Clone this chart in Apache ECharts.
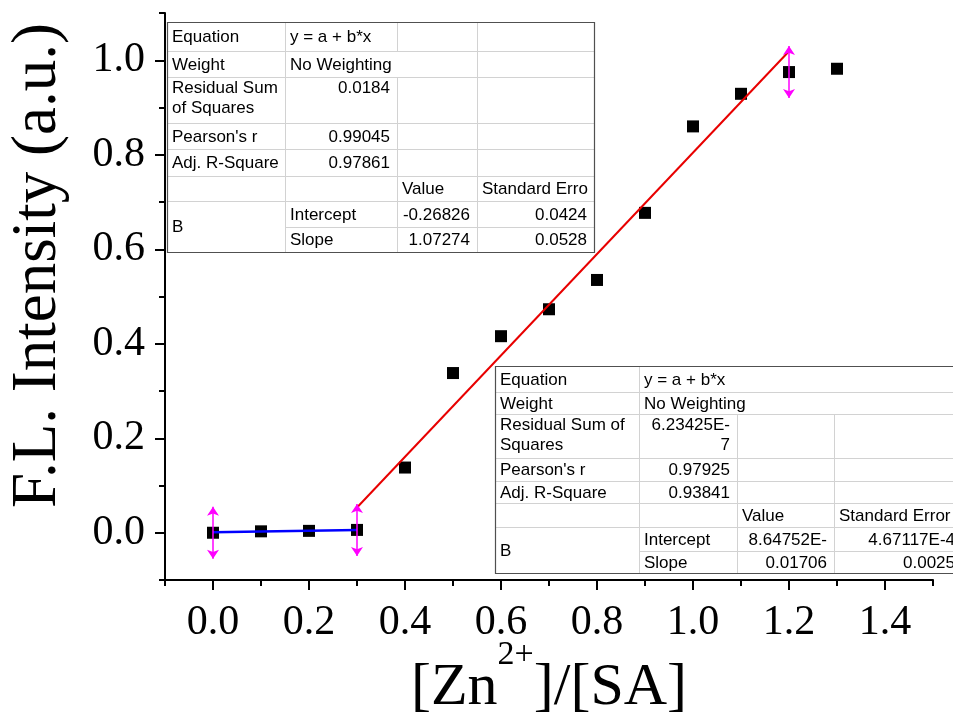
<!DOCTYPE html>
<html><head><meta charset="utf-8">
<script src="https://cdn.jsdelivr.net/npm/echarts@6/dist/echarts.min.js"></script>
<style>html,body{margin:0;padding:0;background:#fff}#c{width:953px;height:713px}</style>
</head><body><div id="c"></div>
<script>
// ---- data ----
const ratio = [0, 0.1, 0.2, 0.3, 0.4, 0.5, 0.6, 0.7, 0.8, 0.9, 1.0, 1.1, 1.2, 1.3];
const intensity = [0.000, 0.003, 0.004, 0.006, 0.138, 0.338, 0.416, 0.473, 0.535, 0.677, 0.860, 0.929, 0.975, 0.982];
const lowFitParams = [8.64752e-4, 0.01706];   // intercept, slope
const lowFitRange = [0, 0.3];
const highFitParams = [-0.26826, 1.07274];
const highFitRange = [0.3, 1.2];
const xTickLabels = [0.0, 0.2, 0.4, 0.6, 0.8, 1.0, 1.2, 1.4];
const yTickLabels = [0.0, 0.2, 0.4, 0.6, 0.8, 1.0];
const arrowHalfSpan = 0.055;

const table1Text = [
  ['Equation', 'y = a + b*x'],
  ['Weight', 'No Weighting'],
  ['Residual Sum\nof Squares', '0.0184'],
  ["Pearson's r", '0.99045'],
  ['Adj. R-Square', '0.97861'],
  ['Value', 'Standard Erro'],
  ['B', 'Intercept', '-0.26826', '0.0424'],
  ['Slope', '1.07274', '0.0528']
];
const table2Text = [
  ['Equation', 'y = a + b*x'],
  ['Weight', 'No Weighting'],
  ['Residual Sum of\nSquares', '6.23425E-\n7'],
  ["Pearson's r", '0.97925'],
  ['Adj. R-Square', '0.93841'],
  ['Value', 'Standard Error'],
  ['B', 'Intercept', '8.64752E-', '4.67117E-4'],
  ['Slope', '0.01706', '0.0025']
];

// ---- helpers ----
function fitLine(p, r) {
  return [[r[0], p[0] + p[1] * r[0]], [r[1], p[0] + p[1] * r[1]]];
}
function valueAt(x) {
  const i = ratio.findIndex(v => Math.abs(v - x) < 1e-9);
  return intensity[i];
}
const arrowXs = Array.from(new Set([lowFitRange[0], lowFitRange[1], highFitRange[0], highFitRange[1]]));
const arrowData = arrowXs.map(x => {
  const c = valueAt(x);
  return [{coord: [x, c - arrowHalfSpan]}, {coord: [x, c + arrowHalfSpan]}];
});

function tableCells(t, threeColSpan) {
  // [row, col, rowspan, colspan, text, align, valign]
  const spanEq = threeColSpan ? 3 : 1;
  const cells = [
    [0, 0, 1, 1, t[0][0], 'left', 'middle'],
    [0, 1, 1, spanEq, t[0][1], 'left', 'middle'],
    [1, 0, 1, 1, t[1][0], 'left', 'middle'],
    [1, 1, 1, threeColSpan ? 3 : 2, t[1][1], 'left', 'middle'],
    [2, 0, 1, 1, t[2][0], 'left', 'top'],
    [2, 1, 1, 1, t[2][1], 'right', 'top'],
    [3, 0, 1, 1, t[3][0], 'left', 'middle'],
    [3, 1, 1, 1, t[3][1], 'right', 'middle'],
    [4, 0, 1, 1, t[4][0], 'left', 'middle'],
    [4, 1, 1, 1, t[4][1], 'right', 'middle'],
    [5, 0, 1, 1, '', 'left', 'middle'],
    [5, 1, 1, 1, '', 'left', 'middle'],
    [5, 2, 1, 1, t[5][0], 'left', 'middle'],
    [5, 3, 1, 1, t[5][1], 'left', 'middle'],
    [6, 0, 2, 1, t[6][0], 'left', 'middle'],
    [6, 1, 1, 1, t[6][1], 'left', 'middle'],
    [6, 2, 1, 1, t[6][2], 'right', 'middle'],
    [6, 3, 1, 1, t[6][3], 'right', 'middle'],
    [7, 1, 1, 1, t[7][0], 'left', 'middle'],
    [7, 2, 1, 1, t[7][1], 'right', 'middle'],
    [7, 3, 1, 1, t[7][2], 'right', 'middle']
  ];
  if (!threeColSpan) {
    cells.push([0, 2, 1, 1, '', 'left', 'middle'], [0, 3, 1, 1, '', 'left', 'middle'], [1, 3, 1, 1, '', 'left', 'middle']);
  }
  for (let r = 2; r <= 4; r++) cells.push([r, 2, 1, 1, '', 'left', 'middle'], [r, 3, 1, 1, '', 'left', 'middle']);
  return cells;
}

function buildTable(cols, rows, cells) {
  const els = [];
  const W = cols[cols.length - 1] - cols[0], H = rows[rows.length - 1] - rows[0];
  els.push({type: 'rect', shape: {x: cols[0], y: rows[0], width: W, height: H}, style: {fill: '#fff', stroke: null}, z: 100});
  cells.forEach(c => {
    const [r, ci, rs, cs, text, align, valign] = c;
    const x0 = cols[ci], x1 = cols[ci + cs], y0 = rows[r], y1 = rows[r + rs];
    els.push({type: 'rect', shape: {x: x0 + 0.5, y: y0 + 0.5, width: x1 - x0, height: y1 - y0},
      style: {fill: null, stroke: '#d2d2d2', lineWidth: 1}, z: 101});
    if (text) {
      els.push({type: 'text', z: 103,
        x: align === 'left' ? x0 + 5 : x1 - 7,
        y: valign === 'top' ? y0 + 1 : (y0 + y1) / 2 + 1,
        style: {text: text, fontFamily: 'Liberation Sans, Arial', fontSize: 17, lineHeight: 20,
          fill: '#000', align: align, verticalAlign: valign}});
    }
  });
  els.push({type: 'rect', shape: {x: cols[0] + 0.5, y: rows[0] + 0.5, width: W, height: H},
    style: {fill: null, stroke: '#505050', lineWidth: 1.2}, z: 102});
  return els;
}

const table1 = buildTable([167, 285, 397, 477, 594], [22, 51, 77, 123, 149, 176, 201, 227, 252], tableCells(table1Text, false));
const table2 = buildTable([495, 639, 737, 834, 962], [366, 392, 414, 458, 481, 503, 527, 551, 573], tableCells(table2Text, true));

const serif = 'Liberation Serif, Times New Roman, serif';
const chart = echarts.init(document.getElementById('c'), null, {renderer: 'canvas'});
chart.setOption({
  animation: false,
  backgroundColor: '#fff',
  grid: {left: 165, right: 20, top: 13, bottom: 133, containLabel: false, outerBoundsMode: 'none'},
  xAxis: [{
    type: 'value', min: -0.1, max: 1.5, interval: 0.1,
    axisLine: {show: true, onZero: false, lineStyle: {color: '#000', width: 2}},
    axisTick: {show: true, length: 10, lineStyle: {color: '#000', width: 2}, customValues: xTickLabels},
    axisLabel: {customValues: xTickLabels, formatter: v => v.toFixed(1), fontFamily: serif, fontSize: 42, color: '#000', margin: 22},
    splitLine: {show: false},
    name: '{m|[Zn}{s|2+}{m|]/[SA]}', nameLocation: 'middle', nameGap: 58, nameMoveOverlap: false,
    nameTextStyle: {
      rich: {
        m: {fontFamily: serif, fontSize: 60, color: '#000', lineHeight: 100, verticalAlign: 'middle'},
        s: {fontFamily: serif, fontSize: 34, color: '#000', lineHeight: 34, verticalAlign: 'top'}
      }
    }
  }, {
    type: 'value', min: -0.1, max: 1.5, interval: 0.1, position: 'bottom',
    axisLine: {show: false, onZero: false},
    axisTick: {show: true, length: 6, lineStyle: {color: '#000', width: 2}},
    axisLabel: {show: false}, splitLine: {show: false}
  }],
  yAxis: [{
    type: 'value', min: -0.1, max: 1.1, interval: 0.1,
    axisLine: {show: true, onZero: false, lineStyle: {color: '#000', width: 2}},
    axisTick: {show: true, length: 10, lineStyle: {color: '#000', width: 2}, customValues: yTickLabels},
    axisLabel: {customValues: yTickLabels, formatter: v => v.toFixed(1), fontFamily: serif, fontSize: 42, color: '#000', margin: 20},
    splitLine: {show: false},
    name: 'F.L. Intensity (a.u.)', nameLocation: 'middle', nameGap: 95, nameMoveOverlap: false,
    nameTextStyle: {fontFamily: serif, fontSize: 63, color: '#000', padding: [0, 0, 0, 62]}
  }, {
    type: 'value', min: -0.1, max: 1.1, interval: 0.1, position: 'left',
    axisLine: {show: false, onZero: false},
    axisTick: {show: true, length: 6, lineStyle: {color: '#000', width: 2}},
    axisLabel: {show: false}, splitLine: {show: false}
  }],
  series: [
    {type: 'scatter', name: 'data', data: ratio.map((x, i) => [x, intensity[i]]),
      symbol: 'rect', symbolSize: 12, itemStyle: {color: '#000', opacity: 1}, z: 2, silent: true},
    {type: 'line', name: 'fit high', data: fitLine(highFitParams, highFitRange), showSymbol: false,
      lineStyle: {color: '#e80000', width: 2}, z: 3, silent: true},
    {type: 'line', name: 'fit low', data: fitLine(lowFitParams, lowFitRange), showSymbol: false,
      lineStyle: {color: '#0000ff', width: 2.5}, z: 3, silent: true},
    {type: 'line', name: 'range', data: [], z: 4, silent: true,
      markLine: {silent: true, symbol: ['arrow', 'arrow'], symbolSize: 9, label: {show: false},
        lineStyle: {color: '#ff00ff', width: 1.5, type: 'solid'}, emphasis: {disabled: true},
        data: arrowData}}
  ],
  graphic: table1.concat(table2)
});
</script>
</body></html>
